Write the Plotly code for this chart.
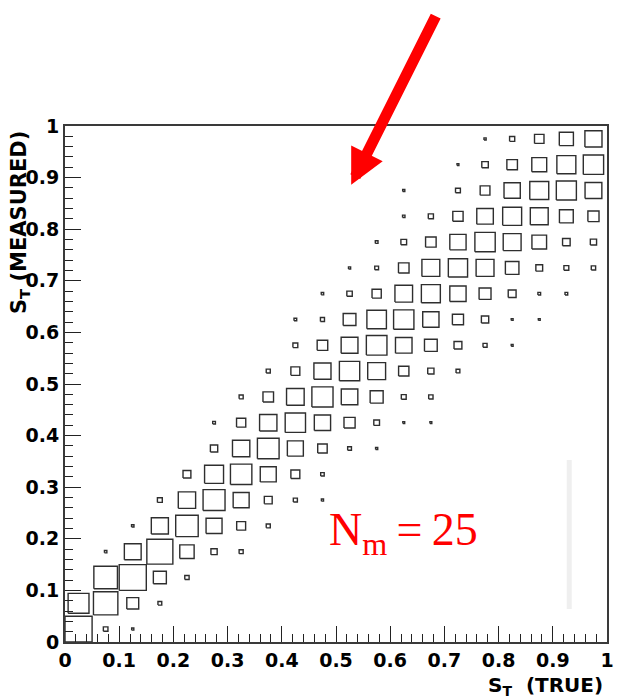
import plotly.graph_objects as go

# ---- data: 20x20 histogram of S_T(true) vs S_T(measured), box side ~ content ----
x_centers = [0.025, 0.075, 0.125, 0.175, 0.225, 0.275, 0.325, 0.375, 0.425, 0.475,
             0.525, 0.575, 0.625, 0.675, 0.725, 0.775, 0.825, 0.875, 0.925, 0.975]
y_centers = list(x_centers)
bin_width = 0.05

# rows: measured bin (bottom to top); columns: true bin (left to right)
counts = [
    [100, 17, 8, 0, 0, 0, 0, 0, 0, 0, 0, 0, 0, 0, 0, 0, 0, 0, 0, 0],
    [77, 90, 44, 14, 0, 0, 0, 0, 0, 0, 0, 0, 0, 0, 0, 0, 0, 0, 0, 0],
    [0, 87, 100, 48, 16, 0, 0, 0, 0, 0, 0, 0, 0, 0, 0, 0, 0, 0, 0, 0],
    [0, 9, 62, 96, 53, 23, 15, 0, 0, 0, 0, 0, 0, 0, 0, 0, 0, 0, 0, 0],
    [0, 0, 9, 63, 83, 59, 33, 15, 0, 0, 0, 0, 0, 0, 0, 0, 0, 0, 0, 0],
    [0, 0, 0, 18, 64, 81, 59, 29, 15, 8, 0, 0, 0, 0, 0, 0, 0, 0, 0, 0],
    [0, 0, 0, 0, 29, 70, 79, 59, 33, 13, 0, 0, 0, 0, 0, 0, 0, 0, 0, 0],
    [0, 0, 0, 0, 0, 27, 64, 80, 59, 35, 14, 8, 0, 0, 0, 0, 0, 0, 0, 0],
    [0, 0, 0, 0, 0, 10, 34, 64, 75, 60, 41, 21, 7, 7, 0, 0, 0, 0, 0, 0],
    [0, 0, 0, 0, 0, 0, 15, 39, 65, 78, 61, 48, 18, 16, 0, 0, 0, 0, 0, 0],
    [0, 0, 0, 0, 0, 0, 0, 15, 33, 63, 75, 66, 38, 23, 14, 0, 0, 0, 0, 0],
    [0, 0, 0, 0, 0, 0, 0, 0, 18, 39, 62, 76, 61, 47, 29, 15, 7, 0, 0, 0],
    [0, 0, 0, 0, 0, 0, 0, 0, 10, 15, 47, 72, 75, 60, 41, 27, 7, 7, 0, 0],
    [0, 0, 0, 0, 0, 0, 0, 0, 0, 9, 20, 34, 65, 70, 60, 44, 29, 10, 10, 0],
    [0, 0, 0, 0, 0, 0, 0, 0, 0, 0, 8, 14, 39, 66, 71, 66, 50, 25, 18, 16],
    [0, 0, 0, 0, 0, 0, 0, 0, 0, 0, 0, 10, 21, 39, 60, 75, 66, 54, 28, 23],
    [0, 0, 0, 0, 0, 0, 0, 0, 0, 0, 0, 0, 9, 19, 38, 61, 70, 66, 51, 41],
    [0, 0, 0, 0, 0, 0, 0, 0, 0, 0, 0, 0, 8, 0, 18, 36, 60, 70, 74, 62],
    [0, 0, 0, 0, 0, 0, 0, 0, 0, 0, 0, 0, 0, 0, 7, 24, 39, 55, 70, 75],
    [0, 0, 0, 0, 0, 0, 0, 0, 0, 0, 0, 0, 0, 0, 0, 8, 19, 35, 52, 63],
]

tick_vals = [0, 0.1, 0.2, 0.3, 0.4, 0.5, 0.6, 0.7, 0.8, 0.9, 1]
tick_text = ["0", "0.1", "0.2", "0.3", "0.4", "0.5", "0.6", "0.7", "0.8", "0.9", "1"]

# ---- build box outlines ----
zmax = max(max(r) for r in counts)
bx, by = [], []
for j, row in enumerate(counts):
    for i, c in enumerate(row):
        if c <= 0:
            continue
        h = 0.5 * bin_width * c / zmax
        xc, yc = x_centers[i], y_centers[j]
        bx += [xc - h, xc + h, xc + h, xc - h, xc - h, None]
        by += [yc - h, yc - h, yc + h, yc + h, yc - h, None]

fig = go.Figure()
fig.add_trace(go.Scatter(x=bx, y=by, mode="lines",
                         line=dict(color="#2e2e2e", width=1.4),
                         hoverinfo="skip", showlegend=False))

tickfont = dict(family="DejaVu Sans", size=19, color="black", weight="bold")
axis_common = dict(range=[0, 1], tickvals=tick_vals, ticktext=tick_text,
                   ticks="inside", ticklen=16, tickwidth=1.4, tickcolor="#222",
                   minor=dict(dtick=0.02, tick0=0, ticks="inside", ticklen=8,
                              tickwidth=1.2, tickcolor="#222", showgrid=False),
                   showline=True, linecolor="#3a3a3a", linewidth=2, mirror=True,
                   showgrid=False, zeroline=False, tickfont=tickfont,
                   fixedrange=True)

fig.update_layout(
    width=626, height=699,
    margin=dict(l=65, r=16, t=126, b=57),
    paper_bgcolor="white", plot_bgcolor="white",
    xaxis=axis_common, yaxis=axis_common,
    shapes=[dict(type="rect", xref="paper", yref="paper",
                 x0=0.9257, x1=0.9349, y0=0.064, y1=0.3527,
                 fillcolor="#efefef", line=dict(width=0), layer="below")],
    annotations=[
        dict(text="S<sub>T</sub> (MEASURED)", xref="paper", yref="paper",
             x=-0.083, y=0.812, textangle=-90, showarrow=False,
             font=dict(family="DejaVu Sans", size=21, color="black", weight="bold"),
             xanchor="center", yanchor="middle"),
        dict(text="S<sub>T</sub>\u00a0 (TRUE)", xref="paper", yref="paper",
             x=0.996, y=-0.086, showarrow=False,
             font=dict(family="DejaVu Sans", size=20, color="black", weight="bold"),
             xanchor="right", yanchor="middle"),
        dict(text="N<sub>m</sub>\u2009=\u200925", xref="x", yref="y",
             x=0.4826, y=0.212, showarrow=False,
             font=dict(family="Liberation Serif", size=46, color="#ff0000"),
             xanchor="left", yanchor="middle"),
        dict(text="", xref="paper", yref="paper", x=0.528, y=0.886,
             showarrow=True, ax=85.3, ay=-170.2, arrowhead=2, arrowwidth=11,
             arrowsize=0.64, arrowcolor="#ff0000"),
    ],
)

fig.write_html("out.html")
